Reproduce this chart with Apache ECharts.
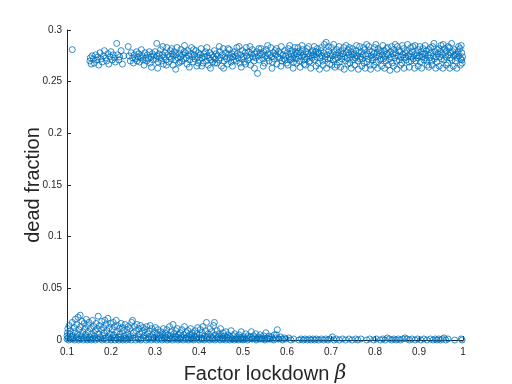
<!DOCTYPE html>
<html>
<head>
<meta charset="utf-8">
<script src="https://cdn.jsdelivr.net/npm/echarts@6/dist/echarts.min.js"></script>
<style>
  html, body { margin: 0; padding: 0; background: #fff; }
  #chart { width: 512px; height: 384px; }
</style>
</head>
<body>
<div id="chart"></div>
<script>
var xTicks = [0.1, 0.2, 0.3, 0.4, 0.5, 0.6, 0.7, 0.8, 0.9, 1];
var yTicks = [0, 0.05, 0.1, 0.15, 0.2, 0.25, 0.3];

// upper branch (most runs end with ~27% dead)
var upperPoints = [
    [0.112,0.281],
    [0.152,0.270],[0.153,0.273],[0.155,0.267],[0.157,0.275],[0.160,0.272],[0.162,0.268],[0.165,0.276],[0.168,0.271],
    [0.170,0.274],[0.172,0.266],[0.175,0.278],[0.177,0.272],[0.180,0.269],[0.183,0.275],[0.185,0.280],[0.188,0.273],
    [0.190,0.270],[0.193,0.277],[0.195,0.267],[0.198,0.274],[0.200,0.279],[0.203,0.271],[0.205,0.276],[0.208,0.273],
    [0.210,0.269],[0.213,0.287],[0.215,0.276],[0.218,0.271],[0.220,0.274],[0.223,0.280],[0.226,0.267],[0.229,0.275],
    [0.239,0.284],
    [0.241,0.275],[0.244,0.270],[0.246,0.278],[0.249,0.273],[0.251,0.268],[0.253,0.276],[0.256,0.272],[0.258,0.279],[0.259,0.270],
    [0.261,0.274],[0.263,0.277],[0.265,0.269],[0.267,0.273],[0.269,0.281],[0.271,0.275],[0.273,0.271],[0.275,0.266],[0.277,0.278],[0.279,0.273],
    [0.281,0.270],[0.283,0.276],[0.285,0.272],[0.287,0.279],[0.289,0.268],[0.291,0.274],[0.292,0.264],[0.294,0.277],[0.296,0.271],[0.298,0.275],
    [0.300,0.279],[0.302,0.272],[0.304,0.287],[0.305,0.275],[0.307,0.269],[0.309,0.277],[0.311,0.273],[0.313,0.281],[0.315,0.270],[0.317,0.276],[0.319,0.267],
    [0.321,0.274],[0.323,0.278],[0.325,0.271],[0.327,0.283],[0.329,0.276],[0.331,0.269],[0.333,0.274],[0.335,0.280],[0.337,0.272],[0.339,0.277],
    [0.341,0.266],[0.342,0.275],[0.344,0.279],[0.346,0.271],[0.348,0.276],[0.350,0.283],[0.352,0.273],[0.354,0.268],[0.356,0.277],[0.358,0.274],[0.359,0.281],
    [0.361,0.270],[0.363,0.276],[0.365,0.272],[0.367,0.285],[0.369,0.278],[0.371,0.273],[0.373,0.267],[0.375,0.280],[0.377,0.275],[0.379,0.271],
    [0.381,0.277],[0.383,0.283],[0.385,0.274],[0.387,0.269],[0.389,0.276],[0.391,0.272],[0.393,0.280],[0.395,0.265],[0.397,0.274],[0.399,0.278],
    [0.401,0.271],[0.403,0.276],[0.405,0.282],[0.407,0.273],[0.409,0.268],[0.411,0.277],[0.413,0.274],[0.415,0.279],[0.417,0.270],[0.419,0.275],
    [0.421,0.266],[0.423,0.273],[0.425,0.278],[0.427,0.271],[0.429,0.276],[0.431,0.269],[0.433,0.274],[0.435,0.280],[0.437,0.272],[0.439,0.277],
    [0.441,0.268],[0.443,0.275],[0.445,0.271],[0.447,0.279],[0.449,0.273],[0.451,0.265],[0.453,0.276],[0.455,0.282],[0.457,0.270],[0.459,0.274],
    [0.461,0.278],[0.463,0.272],[0.465,0.267],[0.467,0.276],[0.469,0.281],[0.471,0.273],[0.473,0.269],[0.475,0.277],[0.477,0.274],[0.479,0.271],
    [0.481,0.279],[0.483,0.275],[0.485,0.270],[0.487,0.277],[0.489,0.273],[0.491,0.284],[0.493,0.268],[0.495,0.276],[0.497,0.272],[0.499,0.280],
    [0.501,0.274],[0.503,0.269],[0.505,0.278],[0.507,0.283],[0.509,0.275],[0.511,0.271],[0.513,0.279],[0.515,0.273],[0.517,0.266],[0.519,0.277],
    [0.521,0.281],[0.523,0.274],[0.525,0.270],[0.527,0.277],[0.529,0.273],[0.531,0.279],[0.533,0.258],[0.535,0.275],[0.537,0.271],[0.539,0.278],
    [0.541,0.282],[0.543,0.276],[0.545,0.272],[0.547,0.279],[0.549,0.268],[0.551,0.275],[0.553,0.281],[0.555,0.273],[0.557,0.277],[0.559,0.270],
    [0.561,0.276],[0.563,0.283],[0.565,0.274],[0.567,0.269],[0.569,0.278],[0.571,0.272],[0.573,0.280],[0.575,0.276],[0.577,0.267],[0.579,0.274],
    [0.581,0.279],[0.583,0.273],[0.585,0.277],[0.587,0.284],[0.589,0.270],[0.591,0.276],[0.593,0.272],[0.595,0.280],[0.597,0.275],[0.599,0.268],
    [0.601,0.278],[0.603,0.282],[0.605,0.274],[0.607,0.271],[0.609,0.277],[0.611,0.280],[0.613,0.273],[0.615,0.269],[0.617,0.276],[0.619,0.279],
    [0.621,0.272],[0.623,0.277],[0.625,0.283],[0.627,0.275],[0.629,0.270],[0.631,0.278],[0.633,0.274],[0.635,0.281],[0.637,0.276],[0.639,0.267],
    [0.641,0.274],[0.643,0.279],[0.645,0.272],[0.647,0.277],[0.649,0.284],[0.651,0.275],[0.653,0.270],[0.655,0.278],[0.657,0.273],[0.659,0.280],
    [0.661,0.276],[0.663,0.271],[0.665,0.279],[0.667,0.274],[0.669,0.282],[0.671,0.268],[0.673,0.277],[0.675,0.273],[0.677,0.280],[0.679,0.275],
    [0.681,0.270],[0.683,0.278],[0.685,0.286],[0.687,0.274],[0.689,0.288],[0.691,0.276],[0.693,0.272],[0.695,0.280],[0.697,0.267],[0.699,0.277],
    [0.701,0.283],[0.703,0.275],[0.705,0.271],[0.707,0.279],[0.709,0.264],[0.711,0.276],[0.713,0.281],[0.715,0.273],[0.717,0.278],[0.719,0.269],
    [0.721,0.275],[0.723,0.280],[0.725,0.272],[0.727,0.277],[0.729,0.283],[0.731,0.274],[0.733,0.270],[0.735,0.278],[0.737,0.273],[0.739,0.281],
    [0.741,0.276],[0.743,0.268],[0.745,0.279],[0.747,0.274],[0.749,0.282],[0.751,0.271],[0.753,0.277],[0.755,0.273],[0.757,0.280],[0.759,0.275],
    [0.761,0.270],[0.763,0.278],[0.765,0.284],[0.767,0.274],[0.769,0.279],[0.771,0.272],[0.773,0.276],[0.775,0.268],[0.777,0.281],[0.779,0.275],
    [0.781,0.286],[0.783,0.277],[0.785,0.272],[0.787,0.280],[0.789,0.266],[0.791,0.275],[0.793,0.279],[0.795,0.271],[0.797,0.277],[0.799,0.283],
    [0.801,0.274],[0.803,0.269],[0.805,0.278],[0.807,0.282],[0.809,0.275],[0.811,0.271],[0.813,0.279],[0.815,0.265],[0.817,0.276],[0.819,0.272],
    [0.821,0.280],[0.823,0.274],[0.825,0.270],[0.827,0.277],[0.829,0.283],[0.831,0.276],[0.833,0.272],[0.835,0.279],[0.837,0.274],[0.839,0.268],
    [0.841,0.277],[0.843,0.281],[0.845,0.273],[0.847,0.278],[0.849,0.270],[0.851,0.284],[0.853,0.275],[0.855,0.271],[0.857,0.279],[0.859,0.274],
    [0.861,0.268],[0.863,0.276],[0.865,0.282],[0.867,0.273],[0.869,0.278],[0.871,0.271],[0.873,0.280],[0.875,0.275],[0.877,0.269],[0.879,0.277],
    [0.881,0.283],[0.883,0.274],[0.885,0.279],[0.887,0.272],[0.889,0.276],[0.891,0.285],[0.893,0.270],[0.895,0.278],[0.897,0.273],[0.899,0.281],
    [0.901,0.275],[0.903,0.269],[0.905,0.279],[0.907,0.274],[0.909,0.282],[0.911,0.271],[0.913,0.277],[0.915,0.273],[0.917,0.280],[0.919,0.266],
    [0.921,0.276],[0.923,0.281],[0.925,0.273],[0.927,0.278],[0.929,0.270],[0.931,0.284],[0.933,0.275],[0.935,0.272],[0.937,0.279],[0.939,0.274],
    [0.941,0.269],[0.943,0.277],[0.945,0.282],[0.947,0.274],[0.949,0.279],[0.951,0.272],[0.953,0.276],[0.955,0.286],[0.957,0.271],[0.959,0.278],
    [0.961,0.274],[0.963,0.280],[0.965,0.268],[0.967,0.276],[0.969,0.283],[0.971,0.273],[0.973,0.278],[0.975,0.271],[0.977,0.279],[0.979,0.275],
    [0.981,0.281],[0.983,0.270],[0.985,0.277],[0.987,0.273],[0.989,0.279],[0.991,0.275],[0.993,0.282],[0.995,0.272],[0.997,0.278],[0.999,0.274],
    [0.998,0.268],[0.996,0.285]
];

// more upper-branch runs filling the dense band
var upperExtra = [
    [0.306,0.263],[0.318,0.284],[0.326,0.266],[0.338,0.282],[0.347,0.262],[0.357,0.269],[0.366,0.279],[0.378,0.264],
    [0.388,0.281],[0.398,0.268],[0.406,0.265],[0.418,0.283],[0.426,0.263],[0.436,0.268],[0.446,0.284],[0.456,0.263],
    [0.466,0.282],[0.476,0.265],[0.486,0.283],[0.496,0.264],[0.506,0.267],[0.516,0.284],[0.526,0.263],[0.536,0.282],
    [0.546,0.265],[0.556,0.285],[0.566,0.263],[0.576,0.282],[0.586,0.265],[0.596,0.271],
    [0.602,0.266],[0.606,0.285],[0.610,0.272],[0.614,0.263],[0.618,0.283],[0.622,0.268],[0.626,0.279],[0.630,0.264],
    [0.634,0.285],[0.638,0.271],[0.642,0.266],[0.646,0.282],[0.650,0.269],[0.654,0.263],[0.658,0.276],[0.662,0.284],
    [0.666,0.265],[0.670,0.278],[0.674,0.262],[0.678,0.283],[0.682,0.266],[0.686,0.272],[0.690,0.263],[0.694,0.284],
    [0.698,0.273],[0.702,0.266],[0.706,0.286],[0.710,0.272],[0.714,0.266],[0.718,0.284],[0.722,0.264],[0.726,0.277],
    [0.730,0.262],[0.734,0.285],[0.738,0.267],[0.742,0.283],[0.746,0.263],[0.750,0.276],[0.754,0.266],[0.758,0.285],
    [0.762,0.262],[0.766,0.272],[0.770,0.265],[0.774,0.283],[0.778,0.263],[0.782,0.269],[0.786,0.284],[0.790,0.262],
    [0.794,0.273],[0.798,0.266],[0.802,0.286],[0.806,0.263],[0.810,0.280],[0.814,0.272],[0.818,0.285],[0.822,0.263],
    [0.826,0.282],[0.830,0.266],[0.834,0.261],[0.838,0.284],[0.842,0.265],[0.846,0.286],[0.850,0.262],[0.854,0.280],
    [0.858,0.266],[0.862,0.285],[0.866,0.263],[0.870,0.274],[0.874,0.286],[0.878,0.264],[0.882,0.270],[0.886,0.284],
    [0.890,0.263],[0.894,0.275],[0.898,0.265],[0.902,0.284],[0.906,0.263],[0.910,0.277],[0.914,0.285],[0.918,0.270],
    [0.922,0.264],[0.926,0.283],[0.930,0.266],[0.934,0.287],[0.938,0.263],[0.942,0.281],[0.946,0.265],[0.950,0.285],
    [0.954,0.263],[0.958,0.282],[0.962,0.266],[0.966,0.284],[0.970,0.263],[0.974,0.287],[0.978,0.265],[0.982,0.276],
    [0.986,0.263],[0.990,0.284],[0.994,0.266],[0.997,0.271]
];

// lower branch (epidemic suppressed)
var lowerPoints = [
    [0.100,0.001],[0.100,0.004],[0.101,0.007],[0.102,0.011],[0.103,0.002],[0.105,0.014],[0.106,0.006],[0.108,0.009],[0.110,0.001],[0.112,0.017],[0.114,0.004],[0.116,0.012],[0.118,0.008],[0.119,0.020],
    [0.121,0.002],[0.122,0.015],[0.124,0.006],[0.125,0.022],[0.127,0.010],[0.128,0.001],[0.130,0.024],[0.131,0.013],[0.133,0.004],[0.134,0.018],[0.136,0.008],[0.138,0.002],[0.139,0.016],
    [0.141,0.011],[0.142,0.005],[0.144,0.020],[0.145,0.001],[0.147,0.014],[0.148,0.008],[0.150,0.017],[0.152,0.003],[0.154,0.011],[0.156,0.006],[0.158,0.019],[0.159,0.001],
    [0.161,0.013],[0.162,0.004],[0.164,0.009],[0.166,0.016],[0.167,0.002],[0.169,0.011],[0.171,0.023],[0.172,0.006],[0.174,0.014],[0.176,0.001],[0.178,0.010],[0.179,0.018],
    [0.181,0.004],[0.183,0.012],[0.184,0.007],[0.186,0.019],[0.188,0.002],[0.189,0.015],[0.191,0.009],[0.193,0.021],[0.195,0.003],[0.196,0.012],[0.198,0.006],[0.199,0.016],
    [0.201,0.001],[0.203,0.010],[0.205,0.017],[0.206,0.005],[0.208,0.013],[0.210,0.002],[0.212,0.019],[0.213,0.008],[0.215,0.014],[0.217,0.003],[0.219,0.011],
    [0.221,0.006],[0.223,0.016],[0.224,0.001],[0.226,0.012],[0.228,0.009],[0.230,0.004],[0.232,0.015],[0.234,0.002],[0.236,0.010],[0.238,0.006],[0.239,0.013],
    [0.241,0.001],[0.243,0.011],[0.245,0.004],[0.247,0.017],[0.249,0.019],[0.251,0.007],[0.253,0.013],[0.255,0.002],[0.257,0.009],[0.259,0.015],
    [0.261,0.003],[0.263,0.011],[0.265,0.006],[0.267,0.014],[0.269,0.001],[0.271,0.008],[0.273,0.012],[0.275,0.004],[0.277,0.010],[0.279,0.002],
    [0.281,0.013],[0.283,0.006],[0.285,0.001],[0.287,0.009],[0.289,0.014],[0.291,0.003],[0.293,0.011],[0.295,0.005],[0.297,0.001],[0.299,0.008],
    [0.301,0.012],[0.303,0.002],[0.305,0.006],[0.307,0.010],[0.309,0.001],[0.311,0.004],[0.313,0.008],[0.315,0.002],[0.317,0.005],[0.319,0.011],
    [0.321,0.001],[0.323,0.007],[0.325,0.003],[0.327,0.010],[0.329,0.005],[0.331,0.001],[0.333,0.013],[0.335,0.004],[0.337,0.008],[0.339,0.002],
    [0.341,0.015],[0.343,0.006],[0.345,0.001],[0.347,0.009],[0.349,0.003],[0.351,0.011],[0.353,0.005],[0.355,0.001],[0.357,0.007],[0.359,0.003],
    [0.361,0.010],[0.363,0.002],[0.365,0.005],[0.367,0.013],[0.369,0.001],[0.371,0.007],[0.373,0.003],[0.375,0.009],[0.377,0.001],[0.379,0.005],
    [0.381,0.011],[0.383,0.003],[0.385,0.007],[0.387,0.001],[0.389,0.004],[0.391,0.009],[0.393,0.002],[0.395,0.006],[0.397,0.012],[0.399,0.001],
    [0.401,0.005],[0.403,0.010],[0.405,0.002],[0.407,0.007],[0.409,0.013],[0.411,0.001],[0.413,0.004],[0.415,0.009],[0.417,0.017],[0.419,0.003],
    [0.421,0.006],[0.423,0.001],[0.425,0.011],[0.427,0.004],[0.429,0.008],[0.431,0.002],[0.433,0.014],[0.435,0.017],[0.437,0.005],[0.439,0.001],
    [0.441,0.009],[0.443,0.003],[0.445,0.006],[0.447,0.001],[0.449,0.011],[0.451,0.004],[0.453,0.002],[0.455,0.007],[0.457,0.001],[0.459,0.004],
    [0.461,0.008],[0.463,0.002],[0.466,0.005],[0.468,0.001],[0.471,0.003],[0.473,0.009],[0.476,0.001],[0.478,0.004],
    [0.481,0.006],[0.483,0.001],[0.486,0.003],[0.488,0.001],[0.491,0.005],[0.494,0.002],[0.496,0.008],[0.499,0.001],
    [0.501,0.003],[0.504,0.001],[0.506,0.006],[0.509,0.002],[0.511,0.004],[0.514,0.001],[0.517,0.003],[0.519,0.008],
    [0.522,0.001],[0.524,0.004],[0.527,0.002],[0.529,0.006],[0.532,0.001],[0.535,0.003],[0.537,0.001],[0.539,0.005],
    [0.542,0.002],[0.544,0.001],[0.547,0.004],[0.549,0.001],[0.552,0.007],[0.555,0.002],[0.557,0.001],[0.559,0.004],
    [0.562,0.001],[0.565,0.003],[0.568,0.001],[0.571,0.005],[0.574,0.002],[0.576,0.005],[0.578,0.010],[0.581,0.001],
    [0.585,0.003],[0.589,0.001],[0.594,0.002],[0.598,0.001]
];

// runs that end right on the floor
var floorPoints = [
    [0.104,0.000],[0.109,0.003],[0.113,0.001],[0.117,0.000],[0.123,0.003],[0.126,0.000],[0.132,0.001],[0.137,0.000],
    [0.143,0.003],[0.146,0.000],[0.151,0.001],[0.155,0.000],[0.160,0.002],[0.165,0.000],[0.170,0.001],[0.175,0.003],
    [0.180,0.000],[0.185,0.001],[0.190,0.000],[0.194,0.002],[0.200,0.000],[0.204,0.003],[0.209,0.000],[0.214,0.001],
    [0.218,0.000],[0.222,0.003],[0.227,0.000],[0.231,0.001],[0.235,0.000],[0.240,0.003],[0.246,0.000],[0.250,0.002],
    [0.256,0.000],[0.262,0.001],[0.268,0.000],[0.274,0.002],[0.280,0.000],[0.286,0.003],[0.292,0.000],[0.298,0.002],
    [0.304,0.000],[0.310,0.002],[0.316,0.000],[0.322,0.003],[0.328,0.000],[0.334,0.001],[0.340,0.000],[0.346,0.003],
    [0.352,0.000],[0.358,0.001],[0.364,0.000],[0.370,0.002],[0.376,0.000],[0.382,0.001],[0.388,0.000],[0.394,0.003],
    [0.400,0.000],[0.406,0.001],[0.412,0.000],[0.418,0.002],[0.424,0.000],[0.430,0.001],[0.436,0.000],[0.442,0.002],
    [0.448,0.000],[0.454,0.001],[0.460,0.000],[0.465,0.002],[0.470,0.000],[0.475,0.001],[0.480,0.000],[0.485,0.001],
    [0.490,0.000],[0.495,0.001],[0.500,0.000],[0.510,0.000],[0.520,0.001],[0.530,0.000],[0.540,0.001],[0.550,0.000],
    [0.560,0.001],[0.570,0.000],[0.580,0.001],[0.590,0.000],
    [0.604,0.002],[0.609,0.000],[0.615,0.001],[0.627,0.000],[0.632,0.001],[0.637,0.000],[0.641,0.001],[0.646,0.000],
    [0.651,0.001],[0.655,0.000],[0.659,0.001],[0.663,0.000],[0.667,0.001],[0.672,0.000],[0.678,0.001],[0.683,0.000],
    [0.688,0.001],[0.693,0.000],[0.698,0.001],[0.703,0.003],[0.707,0.000],[0.712,0.001],[0.719,0.000],[0.726,0.001],
    [0.733,0.000],[0.741,0.001],[0.748,0.000],[0.756,0.001],[0.761,0.000],[0.768,0.001],[0.781,0.000],[0.788,0.001],
    [0.797,0.000],[0.803,0.001],[0.812,0.000],[0.818,0.001],[0.823,0.000],[0.828,0.002],[0.833,0.001],[0.838,0.000],
    [0.843,0.001],[0.848,0.000],[0.853,0.001],[0.858,0.000],[0.863,0.001],[0.868,0.002],[0.873,0.001],[0.878,0.000],
    [0.884,0.001],[0.891,0.000],[0.897,0.001],[0.904,0.000],[0.911,0.001],[0.918,0.000],[0.926,0.001],[0.932,0.000],
    [0.937,0.001],[0.941,0.000],[0.945,0.001],[0.949,0.000],[0.953,0.001],[0.957,0.002],[0.961,0.000],[0.966,0.001],
    [0.981,0.000],[0.996,0.001],[0.998,0.000]
];

var blue = "#0072BD";
var axisColor = "#262626";
var font = "'Liberation Sans', Arial, Helvetica, sans-serif";

function tickText(v) {
    return String(parseFloat(v.toFixed(2)));
}

function scatterSeries(name, points) {
    return {
        name: name,
        type: "scatter",
        data: points,
        symbol: "circle",
        symbolSize: 6,
        clip: false,
        silent: true,
        itemStyle: { color: "rgba(255,255,255,0)", borderColor: blue, borderWidth: 1 }
    };
}

var chart = echarts.init(document.getElementById("chart"), null, { renderer: "canvas" });
chart.setOption({
    animation: false,
    backgroundColor: "#fff",
    grid: { left: 67, right: 49, top: 30, bottom: 44, containLabel: false, outerBoundsMode: "none" },
    xAxis: {
        type: "value",
        min: xTicks[0],
        max: xTicks[xTicks.length - 1],
        interval: 0.1,
        name: "Factor lockdown {b|β}",
        nameLocation: "middle",
        nameGap: 24,
        nameTextStyle: {
            fontFamily: font, fontSize: 20, color: axisColor,
            rich: { b: { fontFamily: "'DejaVu Serif', 'Liberation Serif', serif", fontStyle: "italic", fontSize: 20, color: axisColor } }
        },
        axisLine: { show: true, lineStyle: { color: axisColor, width: 1 } },
        axisTick: { show: true, inside: true, length: 4, lineStyle: { color: axisColor } },
        axisLabel: { fontFamily: font, fontSize: 10, color: axisColor, margin: 7, formatter: tickText },
        splitLine: { show: false }
    },
    yAxis: {
        type: "value",
        min: yTicks[0],
        max: yTicks[yTicks.length - 1],
        interval: 0.05,
        name: "dead fraction",
        nameLocation: "middle",
        nameGap: 24,
        nameMoveOverlap: false,
        nameTextStyle: { fontFamily: font, fontSize: 20, color: axisColor },
        axisLine: { show: true, lineStyle: { color: axisColor, width: 1 } },
        axisTick: { show: true, inside: true, length: 4, lineStyle: { color: axisColor } },
        axisLabel: { fontFamily: font, fontSize: 10, color: axisColor, margin: 5, formatter: tickText },
        splitLine: { show: false }
    },
    series: [
        scatterSeries("upper", upperPoints),
        scatterSeries("upperExtra", upperExtra),
        scatterSeries("lower", lowerPoints),
        scatterSeries("floor", floorPoints)
    ]
});
</script>
</body>
</html>
